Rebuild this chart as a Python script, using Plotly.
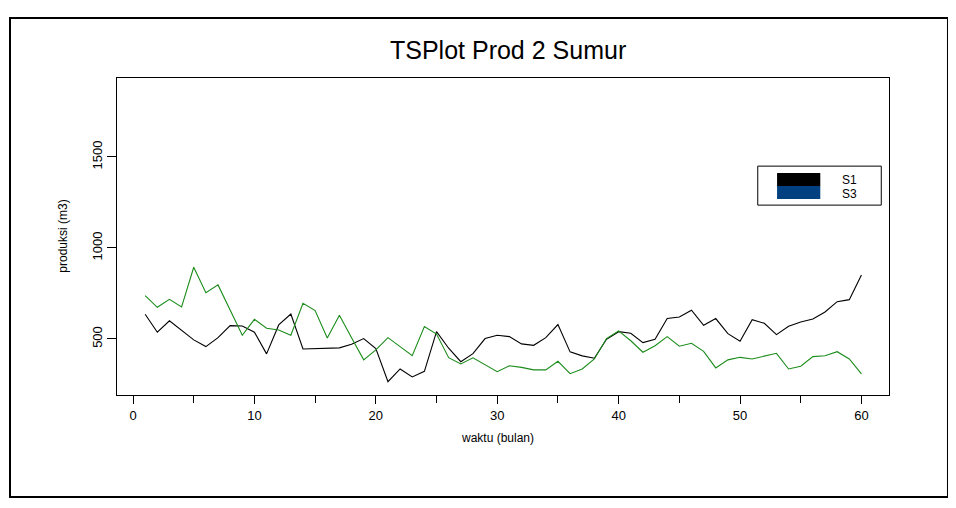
import plotly.graph_objects as go

# ---- data ----
bulan = list(range(1, 61))
S1 = [636, 537, 600, 548, 495, 458, 507, 573, 571, 537,
      418, 577, 637, 445, 447, 449, 451, 471, 502, 447,
      265, 335, 291, 322, 540, 449, 375, 419, 502, 520,
      513, 473, 465, 507, 579, 429, 407, 394, 498, 540,
      531, 480, 498, 612, 621, 658, 575, 612, 529, 487,
      606, 586, 524, 570, 593, 610, 648, 705, 716, 852]
S3 = [738, 674, 718, 676, 894, 754, 797, 663, 520, 608,
      559, 549, 520, 696, 656, 505, 630, 507, 385, 440,
      507, 458, 408, 568, 527, 397, 363, 396, 357, 320,
      353, 344, 330, 330, 377, 309, 335, 390, 502, 544,
      490, 427, 463, 513, 460, 476, 432, 341, 385, 399,
      390, 407, 421, 335, 350, 403, 408, 430, 390, 308]
series_names = ["S1", "S3"]
x_ticks = [0, 10, 20, 30, 40, 50, 60]
y_ticks = [500, 1000, 1500]

FONT = "Liberation Sans, Arial, sans-serif"

fig = go.Figure()
fig.add_trace(go.Scatter(x=bulan, y=S1, mode="lines", name=series_names[0],
                         line=dict(color="#000000", width=1.1), showlegend=False))
fig.add_trace(go.Scatter(x=bulan, y=S3, mode="lines", name=series_names[1],
                         line=dict(color="#1a8c1a", width=1.1), showlegend=False))

fig.update_layout(
    width=948, height=500,
    margin=dict(l=109, r=67, t=70, b=113),
    paper_bgcolor="white", plot_bgcolor="white",
    font=dict(family=FONT, color="black", size=13),
    showlegend=False,
)
fig.update_xaxes(
    range=[-1.32, 62.27], tickvals=x_ticks, ticks="outside", ticklen=8,
    tickcolor="black", showline=True, mirror=True, linecolor="black",
    linewidth=1, showgrid=False, zeroline=False,
    minor=dict(dtick=5, tick0=0, ticks="outside", ticklen=7, tickcolor="black"),
    tickfont=dict(size=13),
)
fig.update_yaxes(
    range=[192, 1934], tickvals=y_ticks, ticks="outside", ticklen=9,
    tickcolor="black", showline=True, mirror=True, linecolor="black",
    linewidth=1, showgrid=False, zeroline=False, tickangle=-90,
    tickfont=dict(size=13),
)

annotations = [
    dict(text="TSPlot Prod 2 Sumur", xref="paper", yref="paper", x=0.506, y=1.088,
         xanchor="center", yanchor="middle", showarrow=False,
         font=dict(size=25, family=FONT)),
    dict(text="produksi (m3)", xref="paper", yref="paper", x=-0.071, y=0.5,
         xanchor="center", yanchor="middle", textangle=-90, showarrow=False,
         font=dict(size=12, family=FONT)),
    dict(text="waktu (bulan)", xref="x", yref="paper", x=30, y=-0.136,
         xanchor="center", yanchor="middle", showarrow=False,
         font=dict(size=12, family=FONT)),
    dict(text=series_names[0], xref="paper", yref="paper", x=0.937, y=0.678,
         xanchor="left", yanchor="middle", showarrow=False, font=dict(size=12)),
    dict(text=series_names[1], xref="paper", yref="paper", x=0.937, y=0.634,
         xanchor="left", yanchor="middle", showarrow=False, font=dict(size=12)),
]
shapes = [
    # outer frame
    dict(type="rect", xref="paper", yref="paper", x0=-0.1386, x1=1.0764,
         y0=-0.322, y1=1.189, line=dict(color="black", width=2)),
    # legend box
    dict(type="rect", xref="paper", yref="paper", x0=0.830, x1=0.990,
         y0=0.599, y1=0.722, line=dict(color="black", width=1), fillcolor="white"),
    dict(type="rect", xref="paper", yref="paper", x0=0.855, x1=0.911,
         y0=0.659, y1=0.700, line=dict(width=0), fillcolor="#000000"),
    dict(type="rect", xref="paper", yref="paper", x0=0.855, x1=0.911,
         y0=0.618, y1=0.659, line=dict(width=0), fillcolor="#004080"),
]
fig.update_layout(annotations=annotations, shapes=shapes)

fig.write_html("out.html")
